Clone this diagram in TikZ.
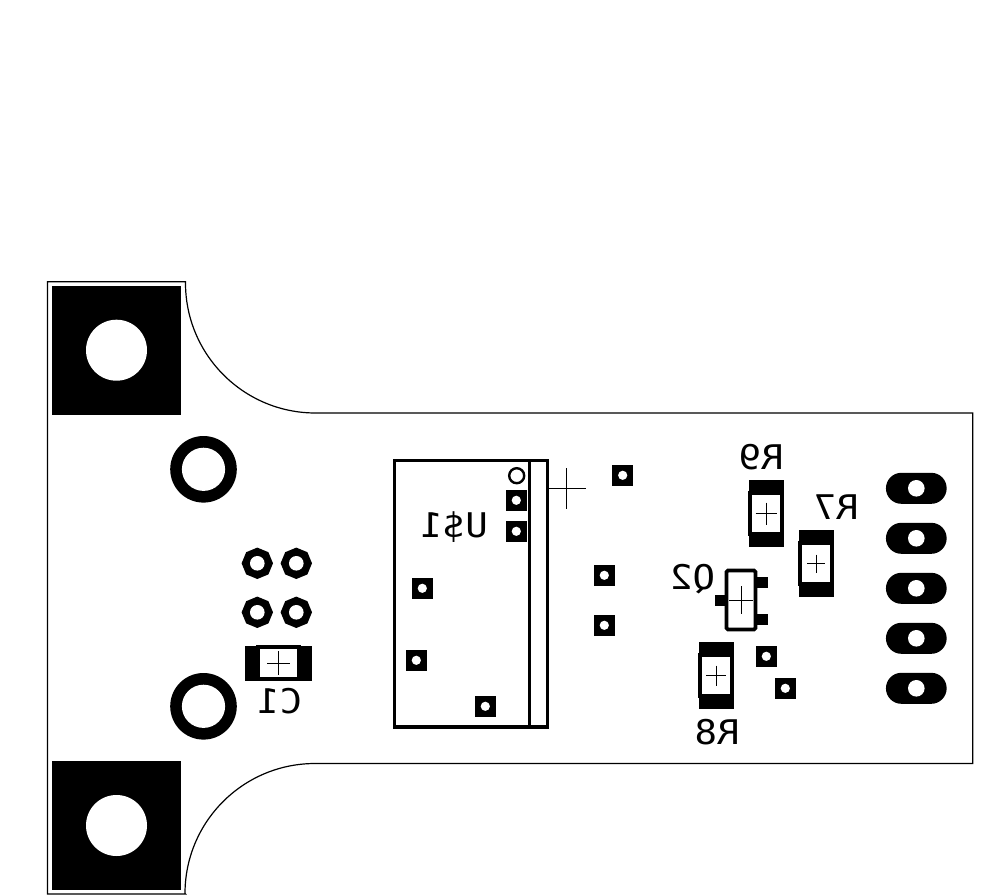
\documentclass[tikz,border=0pt]{standalone}
\usepackage{fontspec}
\usetikzlibrary{shapes.geometric}
\newfontfamily\silkFont{DejaVu Sans Mono}
\newcommand{\mirrorText}[1]{\scalebox{-1.1}[1]{#1}}
\newcommand{\crossMark}[3]{\draw[line width=1pt] (#1) +(-#2,0) -- +(#2,0) +(0,-#3) -- +(0,#3);}
\tikzset{
	boardEdge/.style={draw=black, line width=1.2pt},
	holeIn/.style={path picture={\fill[white] (path picture bounding box.center) circle (#1pt);}},
	mountPad/.style={rectangle, fill=black, minimum size=129, inner sep=0pt, holeIn=30.5},
	ringPad/.style={circle, fill=black, minimum size=66.6, inner sep=0pt, holeIn=21.6},
	octPad/.style={regular polygon, regular polygon sides=8, shape border rotate=22.5, fill=black, minimum size=31.4, inner sep=0pt, holeIn=7.3},
	squarePad/.style={rectangle, fill=black, minimum size=21, inner sep=0pt, holeIn=4.6},
	longPad/.style={rectangle, fill=black, rounded corners=15.4pt, minimum width=60.7, minimum height=31, inner sep=0pt, holeIn=8.3},
	smdEnd/.style={rectangle, fill=black, minimum width=35, minimum height=66.7, inner sep=0pt},
	smdFrame/.style={rectangle, fill=black, minimum width=36, minimum height=45, inner sep=0pt},
	smdWindow/.style={rectangle, fill=white, minimum width=28.3, minimum height=37, inner sep=0pt},
	legPad/.style={rectangle, fill=black, minimum width=12.3, minimum height=10.6, inner sep=0pt},
	silkText/.style={font=\silkFont\fontsize{34}{34}\selectfont, inner sep=0pt, text height=24pt, text depth=0pt}
}
\begin{document}
\begin{tikzpicture}[x=1pt, y=-1pt]
	\useasboundingbox (0,0) rectangle (985,896);

	% board outline
	\draw[boardEdge] (47.5,281.7) -- (185.5,281.7) -- (185.5,283) arc (180:90:130) -- (972.7,413) -- (972.7,763.5) -- (315,763.5) arc (270:180:130) -- (185.5,894) -- (47.5,894) -- cycle;

	% mounting pads and rings
	\node[mountPad](mountTop) at (116.5,350.2){};
	\node[mountPad](mountBottom) at (116.5,825.5){};
	\node[ringPad](ringTop) at (203.5,469.3){};
	\node[ringPad](ringBottom) at (203.5,706.3){};

	% octagon pads
	\node[octPad](octOne) at (257.3,563.3){};
	\node[octPad](octTwo) at (296.3,563.3){};
	\node[octPad](octThree) at (257.3,612.3){};
	\node[octPad](octFour) at (296.3,612.3){};

	% square pads
	\node[squarePad](padA) at (622.7,475.3){};
	\node[squarePad](padB) at (516.3,500.3){};
	\node[squarePad](padC) at (516.3,531.3){};
	\node[squarePad](padD) at (422.3,588.3){};
	\node[squarePad](padE) at (416.3,660.3){};
	\node[squarePad](padF) at (485.3,706.3){};
	\node[squarePad](padG) at (604.3,575.3){};
	\node[squarePad](padH) at (604.3,625.3){};
	\node[squarePad](padI) at (766.3,656.3){};
	\node[squarePad](padJ) at (785.3,688.3){};

	% connector pads
	\node[longPad](pinOne) at (916.3,488.3){};
	\node[longPad](pinTwo) at (916.3,538.3){};
	\node[longPad](pinThree) at (916.3,588.3){};
	\node[longPad](pinFour) at (916.3,638.3){};
	\node[longPad](pinFive) at (916.3,688.3){};

	% module
	\node[rectangle, draw=black, line width=3.5pt, minimum width=153, minimum height=266.5, inner sep=0pt](moduleBox) at (470.9,593.5){};
	\draw[line width=3.5pt] (529.3,460) -- (529.3,727);
	\node[circle, draw=black, line width=2.4pt, minimum size=15, inner sep=0pt](moduleDot) at (516.7,475.7){};
	\coordinate (moduleOrigin) at (566.9,488.3);
	\crossMark{moduleOrigin}{19.5}{20.3}

	% capacitor
	\node[smdEnd, minimum width=67, minimum height=34.7](capEnd) at (278.5,663.3){};
	\node[smdFrame, minimum width=45, minimum height=36](capFrame) at (278.5,663){};
	\node[smdWindow, minimum width=37, minimum height=28](capBody) at (278.5,663){};
	\crossMark{capBody}{11.5}{12}

	% resistors
	\node[smdEnd](resNineEnd) at (766.5,513.3){};
	\node[smdFrame](resNineFrame) at (766,513.5){};
	\node[smdWindow](resNine) at (766,513.5){};
	\crossMark{resNine}{10.5}{11}
	\node[smdEnd](resSevenEnd) at (816.5,563.3){};
	\node[smdFrame](resSevenFrame) at (816,563.5){};
	\node[smdWindow](resSeven) at (816,563.5){};
	\crossMark{resSeven}{9}{9}
	\node[smdEnd](resEightEnd) at (716.5,675.3){};
	\node[smdFrame](resEightFrame) at (716,675.5){};
	\node[smdWindow](resEight) at (716,675.5){};
	\crossMark{resEight}{10}{10}

	% transistor
	\node[legPad](legRightTop) at (762.2,582.3){};
	\node[legPad](legRightBottom) at (762.2,619.3){};
	\node[legPad, minimum width=11](legLeft) at (720.5,600.5){};
	\node[rectangle, fill=white, draw=black, line width=3.8pt, rounded corners=1.5pt, minimum width=29, minimum height=59, inner sep=0pt](transBody) at (741,600){};
	\crossMark{transBody}{12}{14}

	% part names
	\node[silkText](nameModule) at (454,525.5){\mirrorText{U\$1}};
	\node[silkText](nameCap) at (279.5,701){\mirrorText{C1}};
	\node[silkText](nameResNine) at (761,457.5){\mirrorText{R9}};
	\node[silkText](nameResSeven) at (836,507.5){\mirrorText{R7}};
	\node[silkText](nameResEight) at (717,732.5){\mirrorText{R8}};
	\node[silkText](nameTrans) at (692.5,577){\mirrorText{Q2}};
\end{tikzpicture}
\end{document}
